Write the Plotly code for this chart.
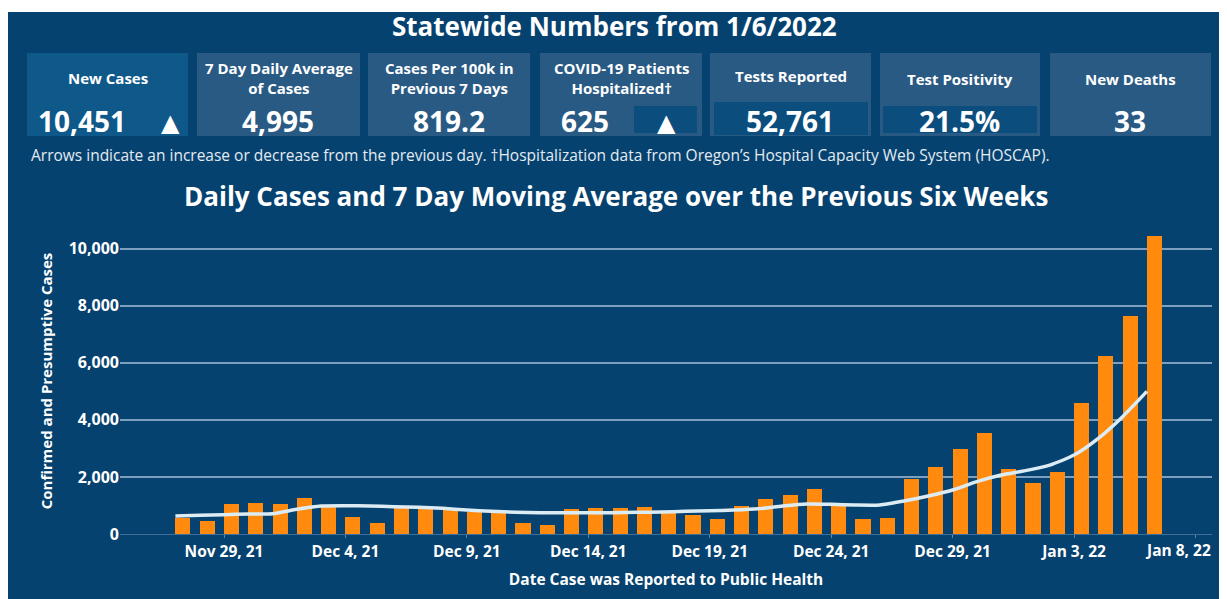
import pandas as pd
import plotly.graph_objects as go

# Daily cases reported, Nov 27, 2021 - Jan 6, 2022
report_dates = pd.date_range("2021-11-27", "2022-01-06", freq="D")

daily_cases = [
    560, 455, 1060, 1095, 1040, 1270, 1000, 605, 395, 955,
    935, 885, 780, 745, 375, 305, 865, 910, 908, 955,
    760, 675, 515, 990, 1215, 1380, 1565, 1000, 535, 570,
    1915, 2335, 2965, 3550, 2265, 1775, 2160, 4580, 6235, 7635, 10451,
]

avg_7day = [
    630, 655, 675, 700, 710, 865, 980, 990, 980, 955,
    935, 900, 840, 795, 760, 745, 745, 745, 745, 760,
    770, 795, 815, 840, 885, 980, 1050, 1040, 1015, 1015,
    1155, 1330, 1540, 1835, 2065, 2220, 2415, 2765, 3350, 4110, 4995,
]

tick_dates = pd.date_range("2021-11-29", periods=9, freq="5D")
tick_labels = [
    "Nov 29, 21", "Dec 4, 21", "Dec 9, 21", "Dec 14, 21", "Dec 19, 21",
    "Dec 24, 21", "Dec 29, 21", "Jan 3, 22", "Jan 8, 22",
]

# Summary cards
card_titles = [
    "New Cases",
    "7 Day Daily Average<br>of Cases",
    "Cases Per 100k in<br>Previous 7 Days",
    "COVID-19 Patients<br>Hospitalized†",
    "Tests Reported",
    "Test Positivity",
    "New Deaths",
]
card_values = ["10,451", "4,995", "819.2", "625", "52,761", "21.5%", "33"]
card_arrows = ["▲", "", "", "▲", "", "", ""]

BG = "#06426f"
CARD = "#295a84"
CARD_HI = "#0e588a"
CARD_IN = "#0b4e7e"
ORANGE = "#FF8A0D"
FONT = "Open Sans"

# the page adds an 8px body margin; layout below is in page pixels
OFF = 8
W, H = 1227 - OFF, 599 - OFF
# plot area (page pixels)
L, R, T, B = 120, 1212, 228, 534


def fx(px):
    return (px - L) / (R - L)


def fy(py):
    return (B - py) / (B - T)


fig = go.Figure()

fig.add_trace(
    go.Bar(
        x=report_dates,
        y=daily_cases,
        width=0.62 * 86400000,
        offset=0,
        marker=dict(color=ORANGE, line=dict(width=0)),
        name="Daily Cases",
    )
)

fig.add_trace(
    go.Scatter(
        x=report_dates,
        y=avg_7day,
        mode="lines",
        line=dict(color="#dcecf5", width=3.5, shape="spline", smoothing=0.6),
        name="7 Day Moving Average",
    )
)

shapes = []
annotations = []

# white strip at the top of the frame
shapes.append(dict(type="rect", xref="paper", yref="paper",
                   x0=fx(0), x1=fx(1240), y0=fy(12), y1=fy(0),
                   fillcolor="white", line=dict(width=0)))

# cards
card_x = [(27, 188), (197, 360), (368, 530), (540, 702), (710, 871), (880, 1040), (1050, 1211)]
title_y = [78, 78, 78, 78, 76, 79, 79]
for i, (x0, x1) in enumerate(card_x):
    shapes.append(dict(type="rect", xref="paper", yref="paper",
                       x0=fx(x0), x1=fx(x1), y0=fy(136), y1=fy(53),
                       fillcolor=CARD_HI if i == 0 else CARD, line=dict(width=0)))
    annotations.append(dict(
        text=card_titles[i], xref="paper", yref="paper",
        x=fx((x0 + x1) / 2), y=fy(title_y[i]), showarrow=False,
        xanchor="center", yanchor="middle",
        font=dict(family=FONT, size=15, color="white", weight="bold"),
    ))

# inner value boxes
for (x0, x1, y0, y1) in [(634, 697, 106, 133), (714, 868, 102, 135), (883, 1037, 106, 133)]:
    shapes.append(dict(type="rect", xref="paper", yref="paper",
                       x0=fx(x0), x1=fx(x1), y0=fy(y1), y1=fy(y0),
                       fillcolor=CARD_IN, line=dict(width=0)))

value_x = [82, 278, 449, 585, 790, 959, 1130]
arrow_x = [170, None, None, 666, None, None, None]
for i, v in enumerate(card_values):
    annotations.append(dict(
        text=v, xref="paper", yref="paper",
        x=fx(value_x[i]), y=fy(121), showarrow=False,
        xanchor="center", yanchor="middle",
        font=dict(family=FONT, size=28, color="white", weight="bold"),
    ))
    if card_arrows[i]:
        annotations.append(dict(
            text=card_arrows[i], xref="paper", yref="paper",
            x=fx(arrow_x[i]), y=fy(123), showarrow=False,
            xanchor="center", yanchor="middle",
            font=dict(family="DejaVu Sans", size=24, color="white"),
        ))

annotations.append(dict(
    text="Statewide Numbers from 1/6/2022", xref="paper", yref="paper",
    x=fx(614), y=fy(26), showarrow=False, xanchor="center", yanchor="middle",
    font=dict(family=FONT, size=26, color="white", weight="bold"),
))
annotations.append(dict(
    text="Arrows indicate an increase or decrease from the previous day. "
         "†Hospitalization data from Oregon’s Hospital Capacity Web System (HOSCAP).",
    xref="paper", yref="paper",
    x=fx(29), y=fy(155), showarrow=False, xanchor="left", yanchor="middle",
    font=dict(family=FONT, size=15.5, color="#e4ebf2"),
))
annotations.append(dict(
    text="Daily Cases and 7 Day Moving Average over the Previous Six Weeks",
    xref="paper", yref="paper",
    x=fx(616), y=fy(196), showarrow=False, xanchor="center", yanchor="middle",
    font=dict(family=FONT, size=26, color="white", weight="bold"),
))

tick_font = dict(family=FONT, size=15.5, color="white", weight="bold")

# last tick label sits at the edge; pull it inward like the original
tick_text = tick_labels[:-1] + [""]
annotations.append(dict(
    text=tick_labels[-1], xref="x", yref="paper",
    x=tick_dates[-1], y=fy(550), xshift=-17, showarrow=False,
    xanchor="center", yanchor="middle", font=tick_font,
))

fig.update_layout(
    width=W,
    height=H,
    margin=dict(l=L - OFF, r=W - (R - OFF), t=T - OFF, b=H - (B - OFF)),
    paper_bgcolor=BG,
    plot_bgcolor=BG,
    showlegend=False,
    bargap=0,
    font=dict(family=FONT, color="white"),

    xaxis=dict(
        type="date",
        automargin=False,
        range=["2021-11-24 17:14", "2022-01-08 16:20"],
        tickvals=tick_dates,
        ticktext=tick_text,
        tickfont=tick_font,
        ticks="outside",
        ticklen=3,
        tickcolor="#5f86ab",
        showgrid=False,
        zeroline=False,
        showline=False,
        title=dict(
            text="Date Case was Reported to Public Health",
            font=dict(family=FONT, size=15.5, color="white", weight="bold"),
            standoff=13,
        ),
    ),

    yaxis=dict(
        automargin=False,
        range=[0, 10720],
        tickvals=[0, 2000, 4000, 6000, 8000, 10000],
        tickformat=",",
        tickfont=dict(family=FONT, size=16, color="white", weight="bold"),
        ticks="",
        gridcolor="#7f9fbf",
        gridwidth=1.5,
        zeroline=True,
        zerolinecolor="#3f6f98",
        zerolinewidth=1,
        title=dict(
            text="Confirmed and Presumptive Cases",
            font=dict(family=FONT, size=15, color="white", weight="bold"),
            standoff=12,
        ),
    ),

    shapes=shapes,
    annotations=annotations,
)

fig.write_html("out.html")
